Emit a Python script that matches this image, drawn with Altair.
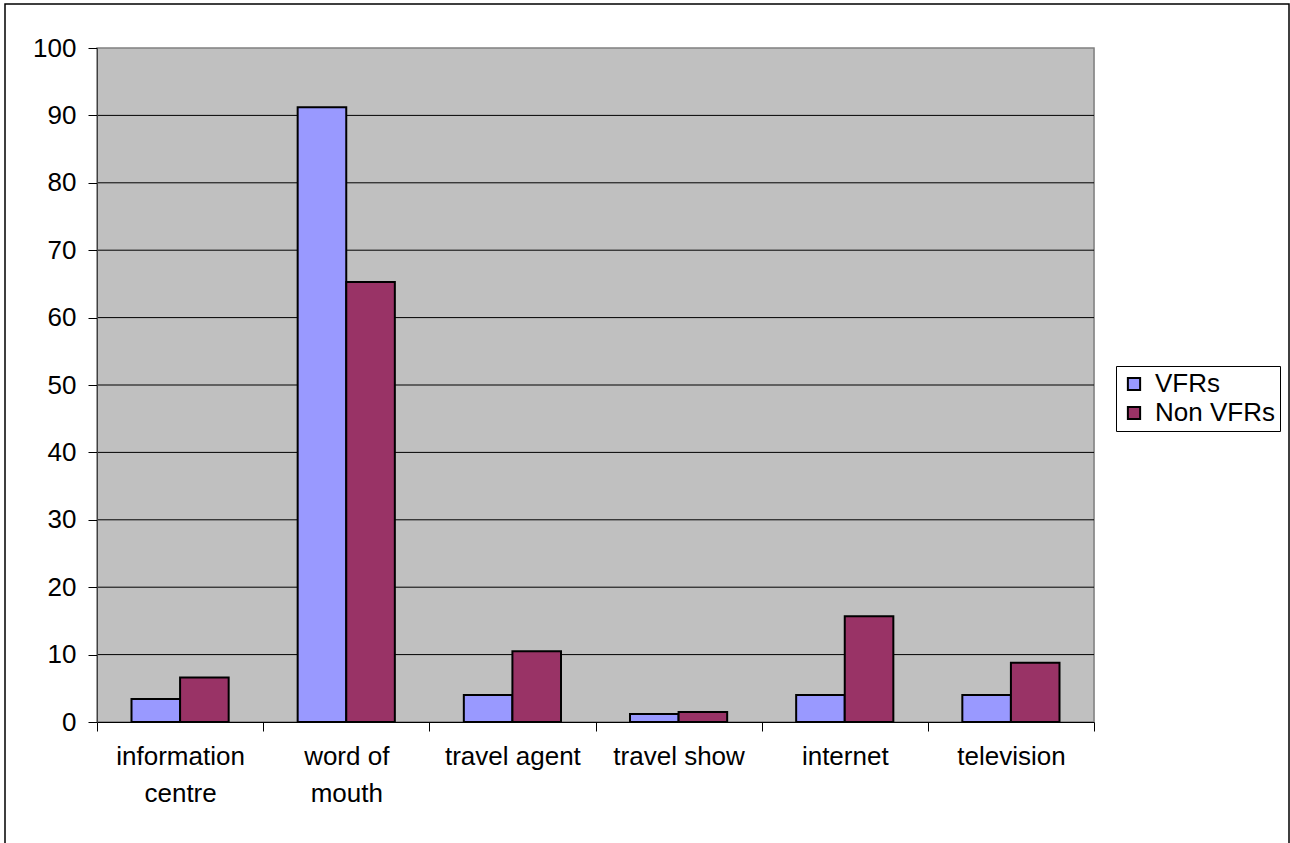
import altair as alt
import pandas as pd

categories = ["information centre", "word of mouth", "travel agent", "travel show", "internet", "television"]
vfrs = [3.4, 91.2, 4.0, 1.2, 4.0, 4.0]
non_vfrs = [6.6, 65.3, 10.5, 1.5, 15.7, 8.8]
series = ["VFRs", "Non VFRs"]
colors = ["#9999FF", "#993366"]
y_ticks = list(range(0, 101, 10))
grid_values = [10, 20, 30, 40, 50, 60, 70, 80, 90]

rows = []
for c, a, b in zip(categories, vfrs, non_vfrs):
    rows.append({"category": c, "series": "VFRs", "value": a})
    rows.append({"category": c, "series": "Non VFRs", "value": b})
df = pd.DataFrame(rows)
grid_df = pd.DataFrame({"g": grid_values})

FONT = "Liberation Sans"
FS = 26

label_expr = ("datum.value == 'information centre' ? ['information', 'centre'] : "
              "datum.value == 'word of mouth' ? ['word of', 'mouth'] : datum.value")

bg = alt.Chart(alt.Data(values=[{"a": 1}])).mark_rect(
    fill="#C0C0C0", stroke="#808080", strokeWidth=1.5
).encode(
    x=alt.value(0), x2=alt.value(997), y=alt.value(0), y2=alt.value(674)
)

grid = alt.Chart(grid_df).mark_rule(color="black", strokeWidth=1).encode(
    y=alt.Y("g:Q"),
    x=alt.value(0), x2=alt.value(997),
)

bars = alt.Chart(df).mark_bar(stroke="black", strokeWidth=2).encode(
    x=alt.X("category:N", sort=categories, title=None,
            scale=alt.Scale(paddingInner=0, paddingOuter=0),
            axis=alt.Axis(labelAngle=0, labelExpr=label_expr, tickBand="extent",
                          labelFontSize=FS, labelFont=FONT, labelColor="black",
                          labelPadding=12, labelLineHeight=37, tickSize=9,
                          tickColor="black", domainColor="black", labelBaseline="top",
                          zindex=1)),
    xOffset=alt.XOffset("series:N", sort=series,
                        scale=alt.Scale(paddingInner=0, paddingOuter=0.71)),
    y=alt.Y("value:Q", title=None,
            scale=alt.Scale(domain=[0, 100], nice=False),
            axis=alt.Axis(values=y_ticks, labelFontSize=FS, labelFont=FONT,
                          labelColor="black", tickSize=9, tickColor="black", labelPadding=12,
                          grid=False, domainColor="#404040", zindex=1)),
    color=alt.Color("series:N", sort=series,
                    scale=alt.Scale(domain=series, range=colors),
                    legend=alt.Legend(title=None, orient="none", legendX=1019, legendY=318,
                                      symbolType="square", symbolSize=150,
                                      symbolStrokeColor="black", symbolStrokeWidth=2,
                                      labelFontSize=FS, labelFont=FONT, labelColor="black",
                                      rowPadding=3, padding=5, strokeColor="black",
                                      fillColor="white", cornerRadius=0, labelOffset=8)),
)

frame = alt.Chart(alt.Data(values=[{"a": 1}])).mark_rect(
    fillOpacity=0, stroke="black", strokeWidth=1.5
).encode(
    x=alt.value(-92), x2=alt.value(1192), y=alt.value(-44), y2=alt.value(800)
)

chart = alt.layer(frame, bg, grid, bars).properties(
    width=997, height=674,
    padding={"left": 97, "top": 48, "right": 196, "bottom": 121},
    autosize=alt.AutoSizeParams(type="none"),
).configure_view(
    stroke=None
).configure(background="white")

chart.save("out.html", embed_options={"renderer": "svg", "actions": False})
